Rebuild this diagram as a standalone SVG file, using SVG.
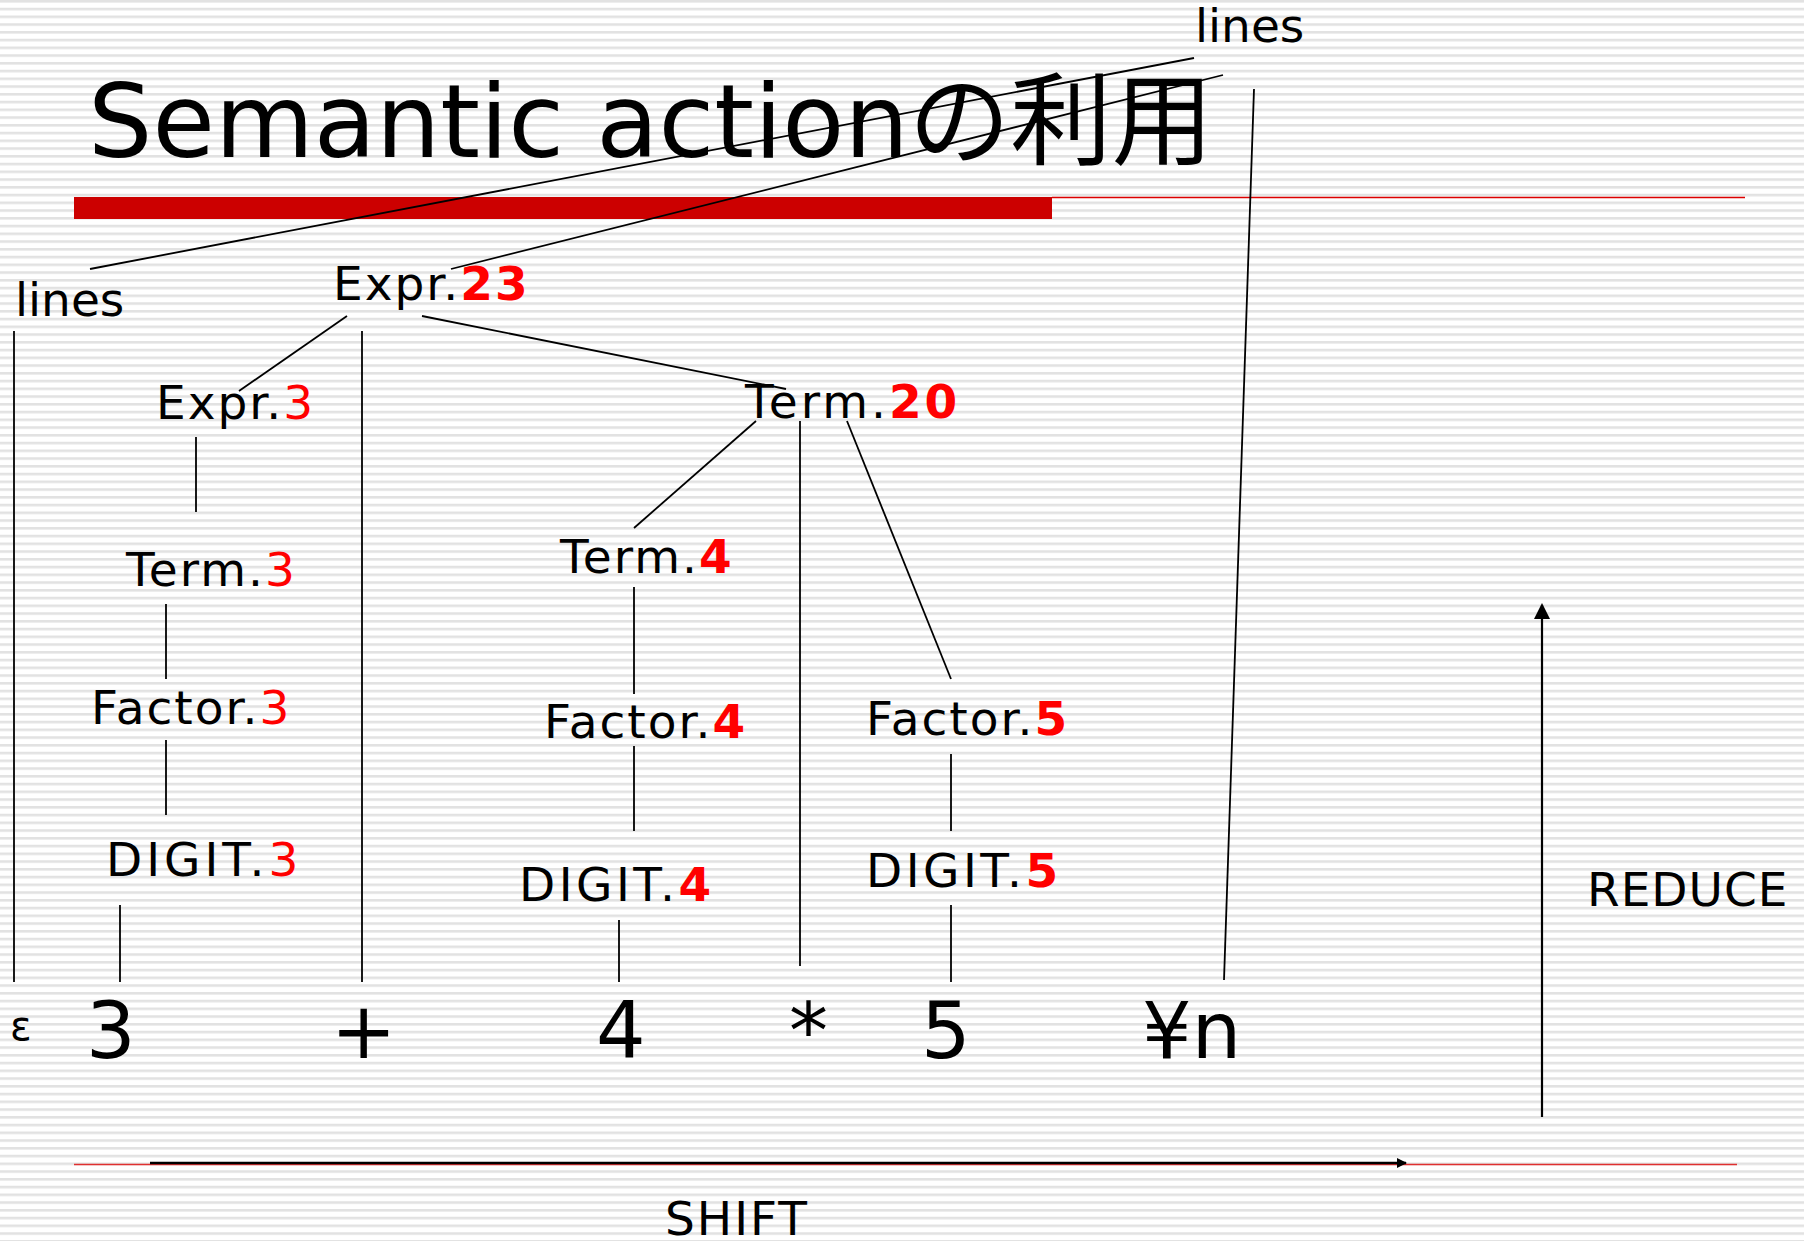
<svg xmlns="http://www.w3.org/2000/svg" width="1804" height="1241" viewBox="0 0 1804 1241">
<defs>
<pattern id="stripes" x="0" y="0" width="20" height="7.75" patternUnits="userSpaceOnUse">
<rect x="0" y="0" width="20" height="7.75" fill="#ffffff"/>
<rect x="0" y="0" width="20" height="2.6" fill="#e2e2e2"/>
</pattern>
<marker id="arr" markerWidth="10" markerHeight="10" refX="9" refY="5" orient="auto" markerUnits="userSpaceOnUse">
<path d="M0,0 L10,5 L0,10 z" fill="#000"/>
</marker>
<marker id="arrUp" markerWidth="16" markerHeight="16" refX="14" refY="8" orient="auto" markerUnits="userSpaceOnUse">
<path d="M0,0 L16,8 L0,16 z" fill="#000"/>
</marker>
</defs>
<style>
.lbl{font-family:"DejaVu Sans","Noto Sans CJK JP",sans-serif;font-size:47px;fill:#000;letter-spacing:2px}
.v{fill:#ff0000}
.b{font-weight:bold}
.tok{font-family:"DejaVu Sans","Noto Sans CJK JP",sans-serif;font-size:78px;fill:#000}
.ln{stroke:#000;stroke-width:1.8;fill:none}
</style>
<rect width="1804" height="1241" fill="url(#stripes)"/>

<g id="title">
<text x="88" y="157" style="font-family:'DejaVu Sans','Noto Sans CJK JP',sans-serif;font-size:101.5px;fill:#000">Semantic actionの利用</text>
<rect x="74" y="197" width="978" height="22" fill="#cc0000"/>
<line x1="1052" y1="197.5" x2="1745" y2="197.5" stroke="#dd0000" stroke-width="1.6"/>
</g>

<g id="connectors">
<line class="ln" x1="90" y1="269" x2="1194" y2="58"/>
<line class="ln" x1="451" y1="269" x2="1223" y2="75"/>
<line class="ln" x1="1254" y1="89" x2="1224" y2="980"/>
<line class="ln" x1="14" y1="331" x2="14" y2="982"/>
<line class="ln" x1="362" y1="331" x2="362" y2="982"/>
<line class="ln" x1="347" y1="316" x2="239" y2="391"/>
<line class="ln" x1="422" y1="316" x2="786" y2="389"/>
<line class="ln" x1="196" y1="437" x2="196" y2="512"/>
<line class="ln" x1="166" y1="604" x2="166" y2="679"/>
<line class="ln" x1="166" y1="740" x2="166" y2="815"/>
<line class="ln" x1="120" y1="905" x2="120" y2="982"/>
<line class="ln" x1="756" y1="421" x2="634" y2="528"/>
<line class="ln" x1="800" y1="421" x2="800" y2="966"/>
<line class="ln" x1="847" y1="421" x2="951" y2="679"/>
<line class="ln" x1="634" y1="587" x2="634" y2="694"/>
<line class="ln" x1="634" y1="746" x2="634" y2="831"/>
<line class="ln" x1="619" y1="920" x2="619" y2="982"/>
<line class="ln" x1="951" y1="754" x2="951" y2="831"/>
<line class="ln" x1="951" y1="905" x2="951" y2="982"/>
</g>

<g id="shift">
<line x1="74" y1="1164.5" x2="1737" y2="1164.5" stroke="#e03030" stroke-width="1.6"/>
<line x1="150" y1="1163" x2="1406" y2="1163" stroke="#000" stroke-width="2.5" marker-end="url(#arr)"/>
<text class="lbl" x="665" y="1235">SHIFT</text>
</g>

<g id="reduce">
<line x1="1542" y1="1117" x2="1542" y2="605" stroke="#000" stroke-width="2.2" marker-end="url(#arrUp)"/>
<text class="lbl" x="1587" y="906" style="letter-spacing:1px">REDUCE</text>
</g>

<g id="node-lines-left"><text class="lbl" x="15" y="316" style="letter-spacing:0">lines</text></g>
<g id="node-lines-top"><text class="lbl" x="1195" y="42" style="letter-spacing:0">lines</text></g>
<g id="node-expr23"><text class="lbl" x="333" y="300">Expr.<tspan class="v b">23</tspan></text></g>
<g id="node-expr3"><text class="lbl" x="156" y="419">Expr.<tspan class="v">3</tspan></text></g>
<g id="node-term3"><text class="lbl" x="126" y="586">Term.<tspan class="v">3</tspan></text></g>
<g id="node-factor3"><text class="lbl" x="91" y="724">Factor.<tspan class="v">3</tspan></text></g>
<g id="node-digit3"><text class="lbl" x="106" y="876" style="letter-spacing:4px">DIGIT.<tspan class="v">3</tspan></text></g>
<g id="node-term20"><text class="lbl" x="745" y="418" style="letter-spacing:3px">Term.<tspan class="v b">20</tspan></text></g>
<g id="node-term4"><text class="lbl" x="560" y="573">Term.<tspan class="v b">4</tspan></text></g>
<g id="node-factor4"><text class="lbl" x="544" y="738">Factor.<tspan class="v b">4</tspan></text></g>
<g id="node-digit4"><text class="lbl" x="519" y="901" style="letter-spacing:3.5px">DIGIT.<tspan class="v b">4</tspan></text></g>
<g id="node-factor5"><text class="lbl" x="866" y="735">Factor.<tspan class="v b">5</tspan></text></g>
<g id="node-digit5"><text class="lbl" x="866" y="887" style="letter-spacing:3.5px">DIGIT.<tspan class="v b">5</tspan></text></g>

<g id="tok-eps"><text class="lbl" x="10" y="1040" style="font-size:40px;letter-spacing:0">ε</text></g>
<g id="tok-3"><text class="tok" x="86" y="1058">3</text></g>
<g id="tok-plus"><text class="tok" x="331" y="1058">+</text></g>
<g id="tok-4"><text class="tok" x="596" y="1058">4</text></g>
<g id="tok-star"><text class="tok" x="789" y="1058">*</text></g>
<g id="tok-5"><text class="tok" x="921" y="1058">5</text></g>
<g id="tok-yen"><text class="tok" x="1142" y="1058">¥n</text></g>
</svg>
